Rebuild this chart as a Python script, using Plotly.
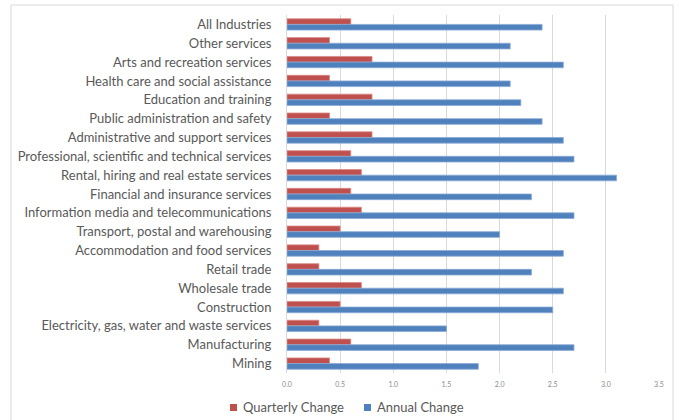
import plotly.graph_objects as go

industries = [
    "All Industries", "Other services", "Arts and recreation services",
    "Health care and social assistance", "Education and training",
    "Public administration and safety", "Administrative and support services",
    "Professional, scientific and technical services",
    "Rental, hiring and real estate services", "Financial and insurance services",
    "Information media and telecommunications", "Transport, postal and warehousing",
    "Accommodation and food services", "Retail trade", "Wholesale trade",
    "Construction", "Electricity, gas, water and waste services",
    "Manufacturing", "Mining",
]
quarterly_change = [0.6, 0.4, 0.8, 0.4, 0.8, 0.4, 0.8, 0.6, 0.7, 0.6,
                    0.7, 0.5, 0.3, 0.3, 0.7, 0.5, 0.3, 0.6, 0.4]
annual_change = [2.4, 2.1, 2.6, 2.1, 2.2, 2.4, 2.6, 2.7, 3.1, 2.3,
                 2.7, 2.0, 2.6, 2.3, 2.6, 2.5, 1.5, 2.7, 1.8]
x_ticks = [0.0, 0.5, 1.0, 1.5, 2.0, 2.5, 3.0, 3.5]

series = [
    ("Quarterly Change", quarterly_change, "#C0504D", "#D88A88"),
    ("Annual Change", annual_change, "#4F81BD", "#8AAAD6"),
]

fig = go.Figure()
for name, values, fill, edge in series:
    fig.add_trace(go.Bar(
        name=name, y=industries, x=values, orientation="h",
        marker=dict(color=fill, line=dict(color=edge, width=0.8)),
    ))

# pixel -> paper helpers for the 287..659 x 15..373 plot box
def px(xp):
    return (xp - 287) / 372

def py(yp):
    return (373 - yp) / 358

# chart frame
shapes = [dict(type="rect", xref="paper", yref="paper",
               x0=px(11), x1=px(673), y0=py(425), y1=py(5),
               line=dict(color="#D9D9D9", width=1), fillcolor="rgba(0,0,0,0)",
               layer="below")]

# legend: coloured squares with text, centred under the plot
legend_left = [230, 364]
annotations = []
for (name, _, fill, _), left in zip(series, legend_left):
    shapes.append(dict(type="rect", xref="paper", yref="paper",
                       x0=px(left), x1=px(left + 7), y0=py(411), y1=py(404),
                       fillcolor=fill, line=dict(width=0)))
    annotations.append(dict(
        xref="paper", yref="paper", x=px(left + 11), y=py(407),
        xanchor="left", yanchor="middle", showarrow=False, text=name,
        font=dict(family="Lato", size=13, color="#595959"),
    ))

fig.update_layout(
    width=679, height=420,
    margin=dict(l=287, r=20, t=15, b=47, autoexpand=False),
    paper_bgcolor="white", plot_bgcolor="white",
    barmode="group", bargap=0.4, bargroupgap=0,
    font=dict(family="Lato", color="#595959"),
    showlegend=False,
    annotations=annotations,
    shapes=shapes,
    xaxis=dict(range=[0, 3.5], tickvals=x_ticks, ticktext=[f"{v:.1f}" for v in x_ticks],
               showgrid=True, gridcolor="#D9D9D9", gridwidth=1, zeroline=False,
               showline=False, ticks="", ticklabelstandoff=6,
               tickfont=dict(size=7, color="#8C8C8C")),
    yaxis=dict(autorange="reversed", showgrid=False, zeroline=False,
               showline=True, linecolor="#D9D9D9", linewidth=1, ticks="",
               ticklabelstandoff=12, tickfont=dict(size=13, color="#595959")),
)

fig.write_html("out.html")
